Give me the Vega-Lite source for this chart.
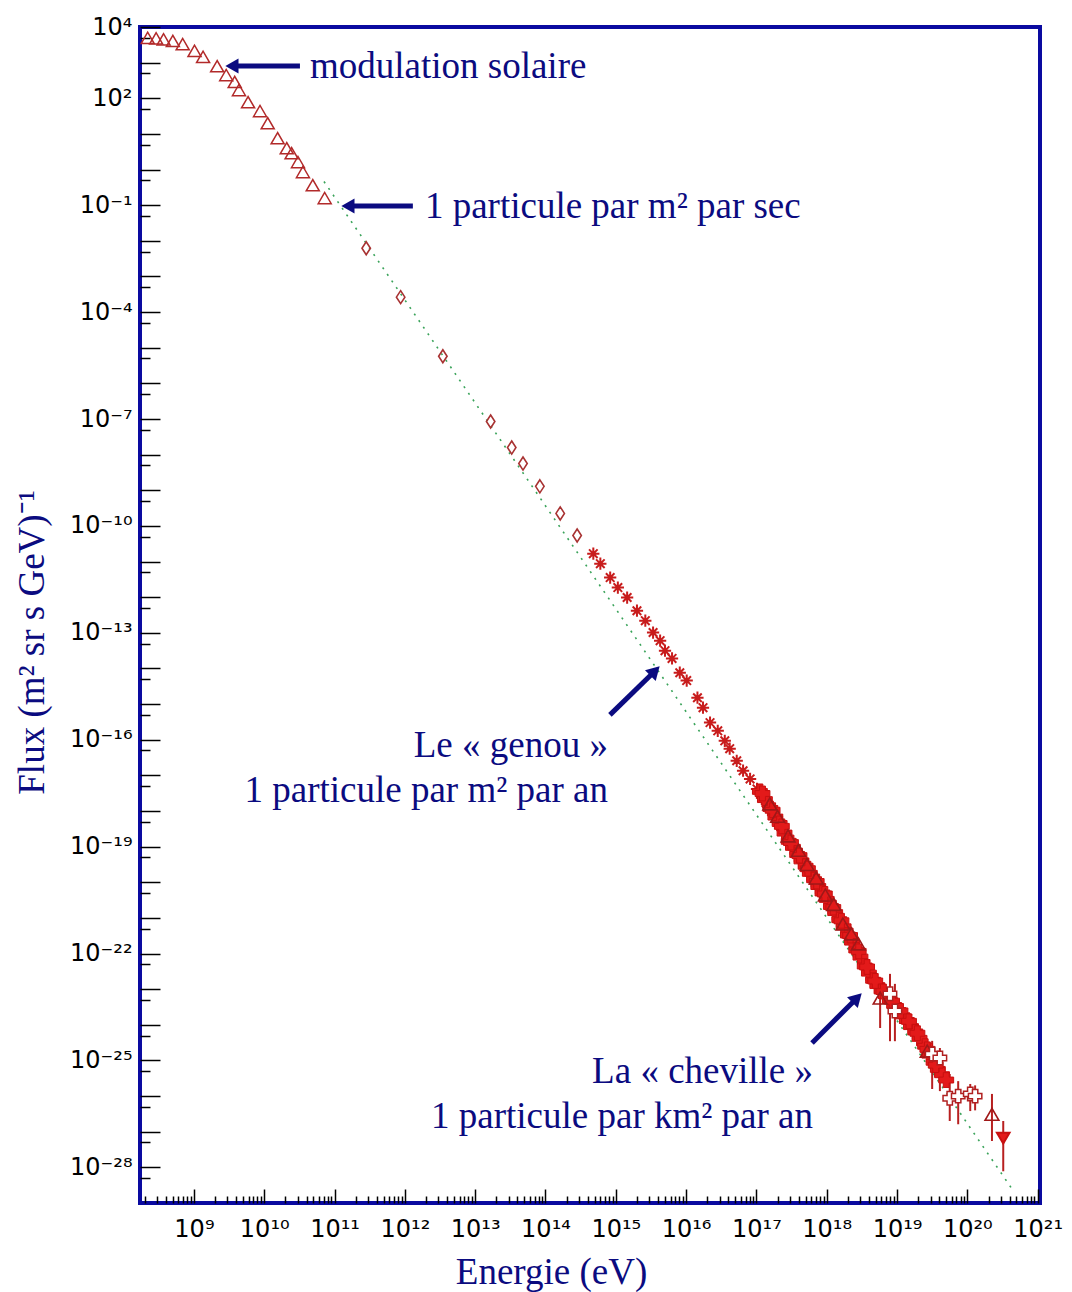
{
  "$schema": "https://vega.github.io/schema/vega-lite/v6.json",
  "width": 900,
  "height": 1176,
  "autosize": {"type": "none"},
  "padding": {"left": 140, "top": 27, "right": 32, "bottom": 89},
  "background": "white",
  "config": {
    "view": {"stroke": "#0a0aa0", "strokeWidth": 4},
    "axis": {
      "domain": false,
      "grid": false,
      "tickColor": "#000000",
      "tickWidth": 1.5,
      "labelFont": "DejaVu Sans",
      "labelFontSize": 24,
      "labelColor": "#000000",
      "titleFont": "Liberation Serif",
      "titleFontSize": 37,
      "titleFontWeight": "normal",
      "titleColor": "#0b0b80"
    }
  },
  "datasets": {
    "fit": [{"E": 7.08e10, "F": 0.46}, {"E": 4.47e20, "F": 2.24e-29}],
    "tri": [
      {"E": 2.2e8, "F": 4950}, {"E": 2.9e8, "F": 4800}, {"E": 3.7e8, "F": 4500}, {"E": 5.01e8, "F": 4070},
      {"E": 6.92e8, "F": 3310}, {"E": 1.02e9, "F": 2140}, {"E": 1.35e9, "F": 1450}, {"E": 2.14e9, "F": 794},
      {"E": 2.88e9, "F": 447}, {"E": 3.80e9, "F": 288}, {"E": 4.37e9, "F": 170}, {"E": 5.89e9, "F": 77.6},
      {"E": 8.71e9, "F": 43.7}, {"E": 1.12e10, "F": 20.0}, {"E": 1.55e10, "F": 7.59}, {"E": 2.09e10, "F": 3.98},
      {"E": 2.45e10, "F": 2.88}, {"E": 3.02e10, "F": 1.62}, {"E": 3.55e10, "F": 0.851}, {"E": 4.90e10, "F": 0.363},
      {"E": 7.24e10, "F": 0.158}
    ],
    "dia": [
      {"E": 2.82e11, "F": 6.17e-3}, {"E": 8.71e11, "F": 2.63e-4}, {"E": 3.47e12, "F": 5.75e-6},
      {"E": 1.66e13, "F": 8.51e-8}, {"E": 3.31e13, "F": 1.58e-8}, {"E": 4.79e13, "F": 5.62e-9},
      {"E": 8.32e13, "F": 1.29e-9}, {"E": 1.62e14, "F": 2.24e-10}, {"E": 2.82e14, "F": 5.37e-11}
    ],
    "star": [
      {"E": 4.79e14, "F": 1.66e-11}, {"E": 6.03e14, "F": 8.71e-12}, {"E": 8.32e14, "F": 3.55e-12},
      {"E": 1.07e15, "F": 1.86e-12}, {"E": 1.45e15, "F": 9.77e-13}, {"E": 2.00e15, "F": 4.17e-13},
      {"E": 2.63e15, "F": 2.19e-13}, {"E": 3.39e15, "F": 1.02e-13}, {"E": 4.27e15, "F": 6.03e-14},
      {"E": 5.01e15, "F": 3.16e-14}, {"E": 6.31e15, "F": 1.91e-14}, {"E": 8.13e15, "F": 7.59e-15},
      {"E": 1.02e16, "F": 4.57e-15}, {"E": 1.45e16, "F": 1.51e-15}, {"E": 1.74e16, "F": 7.94e-16},
      {"E": 2.19e16, "F": 3.02e-16}, {"E": 2.82e16, "F": 1.78e-16}, {"E": 3.55e16, "F": 9.33e-17},
      {"E": 4.17e16, "F": 5.62e-17}, {"E": 5.25e16, "F": 2.57e-17}, {"E": 6.46e16, "F": 1.35e-17},
      {"E": 8.13e16, "F": 7.94e-18}, {"E": 1.02e17, "F": 4.17e-18}, {"E": 1.20e17, "F": 2.34e-18},
      {"E": 1.41e17, "F": 1.58e-18}
    ],
    "band": [
      {"E": 1.12e17, "F": 3.55e-18}, {"E": 1.32e17, "F": 2.09e-18}, {"E": 1.58e17, "F": 1.18e-18},
      {"E": 1.86e17, "F": 6.76e-19}, {"E": 2.14e17, "F": 4.47e-19}, {"E": 2.51e17, "F": 2.40e-19},
      {"E": 2.88e17, "F": 1.41e-19}, {"E": 3.31e17, "F": 9.55e-20}, {"E": 3.80e17, "F": 6.03e-20},
      {"E": 4.37e17, "F": 3.98e-20}, {"E": 5.01e17, "F": 2.82e-20}, {"E": 5.75e17, "F": 1.78e-20},
      {"E": 6.61e17, "F": 1.18e-20}, {"E": 7.59e17, "F": 7.59e-21}, {"E": 8.71e17, "F": 5.01e-21},
      {"E": 1.00e18, "F": 3.31e-21}, {"E": 1.15e18, "F": 2.09e-21}, {"E": 1.32e18, "F": 1.41e-21},
      {"E": 1.51e18, "F": 8.91e-22}, {"E": 1.74e18, "F": 5.62e-22}, {"E": 2.00e18, "F": 3.31e-22},
      {"E": 2.29e18, "F": 2.09e-22}, {"E": 2.63e18, "F": 1.26e-22}, {"E": 3.02e18, "F": 7.94e-23},
      {"E": 3.47e18, "F": 4.47e-23}, {"E": 3.98e18, "F": 2.82e-23}, {"E": 4.57e18, "F": 1.78e-23},
      {"E": 5.25e18, "F": 1.26e-23}, {"E": 6.03e18, "F": 8.91e-24}, {"E": 6.92e18, "F": 6.61e-24},
      {"E": 7.94e18, "F": 4.79e-24}, {"E": 9.12e18, "F": 3.47e-24}, {"E": 1.05e19, "F": 2.51e-24},
      {"E": 1.20e19, "F": 1.78e-24}, {"E": 1.38e19, "F": 1.32e-24}, {"E": 1.58e19, "F": 8.91e-25},
      {"E": 1.82e19, "F": 6.31e-25}, {"E": 2.09e19, "F": 4.17e-25}, {"E": 2.51e19, "F": 2.51e-25},
      {"E": 2.88e19, "F": 1.41e-25}, {"E": 3.31e19, "F": 8.91e-26}, {"E": 3.80e19, "F": 5.62e-26},
      {"E": 4.37e19, "F": 3.98e-26}, {"E": 5.01e19, "F": 2.82e-26},
      {"E": 1.22e17, "F": 3.10e-18}, {"E": 1.70e17, "F": 1.05e-18}, {"E": 2.30e17, "F": 3.70e-19},
      {"E": 3.10e17, "F": 1.30e-19}, {"E": 4.10e17, "F": 5.60e-20}, {"E": 5.40e17, "F": 2.40e-20},
      {"E": 7.20e17, "F": 1.05e-20}, {"E": 9.40e17, "F": 4.70e-21}, {"E": 1.24e18, "F": 1.95e-21},
      {"E": 1.62e18, "F": 8.30e-22}, {"E": 2.15e18, "F": 3.20e-22}, {"E": 2.85e18, "F": 1.15e-22},
      {"E": 3.75e18, "F": 4.20e-23}, {"E": 4.90e18, "F": 1.70e-23}, {"E": 6.40e18, "F": 8.60e-24},
      {"E": 8.50e18, "F": 4.60e-24}, {"E": 1.12e19, "F": 2.45e-24}, {"E": 1.48e19, "F": 1.25e-24},
      {"E": 1.95e19, "F": 5.80e-25}, {"E": 2.70e19, "F": 2.05e-25}, {"E": 3.55e19, "F": 7.40e-26}
    ],
    "otri": [
      {"E": 1.55e17, "F": 1.58e-18}, {"E": 2.00e17, "F": 7.08e-19}, {"E": 2.82e17, "F": 2.00e-19},
      {"E": 3.98e17, "F": 7.94e-20}, {"E": 5.25e17, "F": 3.16e-20}, {"E": 7.08e17, "F": 1.32e-20},
      {"E": 9.55e17, "F": 4.37e-21}, {"E": 1.26e18, "F": 2.40e-21}, {"E": 1.70e18, "F": 6.76e-22},
      {"E": 2.24e18, "F": 3.55e-22}, {"E": 2.82e18, "F": 1.86e-22}, {"E": 5.75e18, "F": 5.62e-24},
      {"E": 2.69e19, "F": 1.82e-25}, {"E": 2.24e20, "F": 3.09e-27}
    ],
    "ocross": [
      {"E": 7.94e18, "F": 7.41e-24}, {"E": 9.33e18, "F": 2.45e-24}, {"E": 3.16e19, "F": 1.51e-25},
      {"E": 4.07e19, "F": 1.17e-25}, {"E": 5.62e19, "F": 8.71e-27}, {"E": 7.41e19, "F": 1.00e-26},
      {"E": 1.10e20, "F": 1.15e-26}, {"E": 1.29e20, "F": 1.00e-26}
    ],
    "dtri": [{"E": 3.24e20, "F": 6.61e-28}],
    "errs": [
      {"E": 5.75e18, "lo": 8.13e-25, "hi": 1.70e-23}, {"E": 2.24e20, "lo": 5.50e-28, "hi": 1.15e-26},
      {"E": 7.94e18, "lo": 3.47e-25, "hi": 2.69e-23}, {"E": 9.33e18, "lo": 3.47e-25, "hi": 1.41e-23},
      {"E": 3.16e19, "lo": 1.58e-26, "hi": 3.55e-25}, {"E": 4.07e19, "lo": 1.38e-26, "hi": 2.24e-25},
      {"E": 5.62e19, "lo": 2.00e-27, "hi": 4.17e-26}, {"E": 7.41e19, "lo": 1.62e-27, "hi": 2.63e-26},
      {"E": 1.10e20, "lo": 3.80e-27, "hi": 2.19e-26}, {"E": 1.29e20, "lo": 3.98e-27, "hi": 2.00e-26},
      {"E": 3.24e20, "lo": 7.76e-29, "hi": 2.00e-27}
    ],
    "arrows": [
      {"E": 3.22e10, "F": 805, "E2": 3.47e9, "F2": 805, "dir": "left"},
      {"E": 1.30e12, "F": 0.0951, "E2": 1.55e11, "F2": 0.0951, "dir": "left"},
      {"E": 8.26e14, "F": 4.97e-16, "E2": 3.61e15, "F2": 8.51e-15, "dir": "upright"},
      {"E": 6.18e17, "F": 3.11e-25, "E2": 2.70e18, "F2": 5.69e-24, "dir": "upright"}
    ],
    "notesL": [
      {"txt": "modulation solaire", "E": 4.47e10, "F": 371},
      {"txt": "1 particule par m² par sec", "E": 1.93e12, "F": 0.0438}
    ],
    "notesR": [
      {"txt": "Le « genou »", "E": 7.74e14, "F": 3.29e-17},
      {"txt": "1 particule par m² par an", "E": 7.74e14, "F": 1.80e-18},
      {"txt": "La « cheville »", "E": 6.38e17, "F": 2.35e-26},
      {"txt": "1 particule par km² par an", "E": 6.38e17, "F": 1.28e-27}
    ]
  },
  "encoding": {
    "x": {"field": "E", "type": "quantitative", "scale": {"type": "log", "domain": [1.71e8, 1.08e21], "nice": false}, "axis": null},
    "y": {"field": "F", "type": "quantitative", "scale": {"type": "log", "domain": [1e-29, 1e4], "nice": false}, "axis": null}
  },
  "layer": [
    {
      "data": {"name": "fit"},
      "mark": {"type": "line", "stroke": "#3aa35a", "strokeWidth": 1.6, "strokeDash": [2, 6]},
      "encoding": {
        "x": {
          "field": "E", "type": "quantitative",
          "scale": {"type": "log", "domain": [1.71e8, 1.08e21], "nice": false},
          "axis": {
            "orient": "bottom",
            "values": [1e9, 1e10, 1e11, 1e12, 1e13, 1e14, 1e15, 1e16, 1e17, 1e18, 1e19, 1e20, 1e21],
            "tickSize": -14,
            "labelPadding": 28,
            "labelFlush": false,
            "labelOverlap": false,
            "labelExpr": "'10' + (round(log(datum.value)/LN10) >= 10 ? substring('⁰¹²³⁴⁵⁶⁷⁸⁹', floor(round(log(datum.value)/LN10)/10), floor(round(log(datum.value)/LN10)/10)+1) : '') + substring('⁰¹²³⁴⁵⁶⁷⁸⁹', round(log(datum.value)/LN10)%10, round(log(datum.value)/LN10)%10+1)",
            "title": "Energie (eV)",
            "titleX": 411,
            "titleY": 80,
            "titleAlign": "center",
            "titleBaseline": "alphabetic"
          }
        },
        "y": {
          "field": "F", "type": "quantitative",
          "scale": {"type": "log", "domain": [1e-29, 1e4], "nice": false},
          "axis": {
            "orient": "left",
            "values": [1e4, 1e3, 1e2, 1e1, 1, 1e-1, 1e-2, 1e-3, 1e-4, 1e-5, 1e-6, 1e-7, 1e-8, 1e-9, 1e-10, 1e-11, 1e-12, 1e-13, 1e-14, 1e-15, 1e-16, 1e-17, 1e-18, 1e-19, 1e-20, 1e-21, 1e-22, 1e-23, 1e-24, 1e-25, 1e-26, 1e-27, 1e-28],
            "tickSize": -20,
            "labelPadding": 28,
            "labelFlush": false,
            "labelOverlap": false,
            "labelExpr": "indexof([4,2,-1,-4,-7,-10,-13,-16,-19,-22,-25,-28], round(log(datum.value)/LN10)) >= 0 ? '10' + (datum.value < 1 ? '⁻' : '') + (abs(round(log(datum.value)/LN10)) >= 10 ? substring('⁰¹²³⁴⁵⁶⁷⁸⁹', floor(abs(round(log(datum.value)/LN10))/10), floor(abs(round(log(datum.value)/LN10))/10)+1) : '') + substring('⁰¹²³⁴⁵⁶⁷⁸⁹', abs(round(log(datum.value)/LN10))%10, abs(round(log(datum.value)/LN10))%10+1) : ''",
            "title": "Flux (m² sr s GeV)⁻¹",
            "titleAngle": 270,
            "titleX": -97,
            "titleY": 615,
            "titleAlign": "center",
            "titleBaseline": "alphabetic"
          }
        }
      }
    },
    {
      "data": {"name": "tri"},
      "mark": {"type": "point", "shape": "triangle-up", "filled": false, "stroke": "#b22a2a", "strokeWidth": 1.5, "size": 170, "opacity": 1},
      "encoding": {
        "x": {
          "field": "E", "type": "quantitative",
          "scale": {"type": "log", "domain": [1.71e8, 1.08e21], "nice": false},
          "axis": {
            "orient": "bottom",
            "values": [2e8,3e8,4e8,5e8,6e8,7e8,8e8,9e8,2e9,3e9,4e9,5e9,6e9,7e9,8e9,9e9,2e10,3e10,4e10,5e10,6e10,7e10,8e10,9e10,2e11,3e11,4e11,5e11,6e11,7e11,8e11,9e11,2e12,3e12,4e12,5e12,6e12,7e12,8e12,9e12,2e13,3e13,4e13,5e13,6e13,7e13,8e13,9e13,2e14,3e14,4e14,5e14,6e14,7e14,8e14,9e14,2e15,3e15,4e15,5e15,6e15,7e15,8e15,9e15,2e16,3e16,4e16,5e16,6e16,7e16,8e16,9e16,2e17,3e17,4e17,5e17,6e17,7e17,8e17,9e17,2e18,3e18,4e18,5e18,6e18,7e18,8e18,9e18,2e19,3e19,4e19,5e19,6e19,7e19,8e19,9e19,2e20,3e20,4e20,5e20,6e20,7e20,8e20,9e20],
            "tickSize": -7,
            "labels": false,
            "title": null
          }
        },
        "y": {
          "field": "F", "type": "quantitative",
          "scale": {"type": "log", "domain": [1e-29, 1e4], "nice": false},
          "axis": {
            "orient": "left",
            "values": [5e3,5e2,50,5,0.5,5e-2,5e-3,5e-4,5e-5,5e-6,5e-7,5e-8,5e-9,5e-10,5e-11,5e-12,5e-13,5e-14,5e-15,5e-16,5e-17,5e-18,5e-19,5e-20,5e-21,5e-22,5e-23,5e-24,5e-25,5e-26,5e-27,5e-28,5e-29],
            "tickSize": -10,
            "labels": false,
            "title": null
          }
        }
      }
    },
    {
      "data": {"name": "dia"},
      "mark": {"type": "point", "shape": "M0,-1L0.65,0L0,1L-0.65,0Z", "filled": false, "stroke": "#a83232", "strokeWidth": 1.6, "size": 170, "opacity": 1}
    },
    {
      "data": {"name": "star"},
      "mark": {"type": "point", "shape": "M-1,0L1,0M0,-1L0,1M-0.7,-0.7L0.7,0.7M-0.7,0.7L0.7,-0.7", "filled": false, "stroke": "#c81c1c", "strokeWidth": 2, "size": 150, "opacity": 1}
    },
    {
      "data": {"name": "errs"},
      "mark": {"type": "rule", "stroke": "#b82020", "strokeWidth": 2},
      "encoding": {
        "y": {"field": "lo", "type": "quantitative", "scale": {"type": "log", "domain": [1e-29, 1e4], "nice": false}, "axis": null},
        "y2": {"field": "hi"}
      }
    },
    {
      "data": {"name": "band"},
      "mark": {"type": "point", "shape": "cross", "filled": true, "fill": "#e31a1a", "stroke": "#c81010", "strokeWidth": 1, "size": 220, "opacity": 1}
    },
    {
      "data": {"name": "otri"},
      "mark": {"type": "point", "shape": "triangle-up", "filled": false, "stroke": "#a01818", "strokeWidth": 1.6, "size": 190, "opacity": 1}
    },
    {
      "data": {"name": "ocross"},
      "mark": {"type": "point", "shape": "cross", "filled": true, "fill": "white", "stroke": "#b02020", "strokeWidth": 1.5, "size": 180, "opacity": 1}
    },
    {
      "data": {"name": "dtri"},
      "mark": {"type": "point", "shape": "triangle-down", "filled": true, "fill": "#e31a1a", "stroke": "#c81010", "size": 160, "opacity": 1}
    },
    {
      "data": {"name": "arrows"},
      "mark": {"type": "rule", "stroke": "#0b0b80", "strokeWidth": 5},
      "encoding": {
        "x2": {"field": "E2"},
        "y2": {"field": "F2"}
      }
    },
    {
      "data": {"name": "arrows"},
      "transform": [{"filter": "datum.dir == 'left'"}],
      "mark": {"type": "point", "shape": "triangle-left", "filled": true, "color": "#0b0b80", "size": 230, "opacity": 1},
      "encoding": {
        "x": {"field": "E2", "type": "quantitative", "scale": {"type": "log", "domain": [1.71e8, 1.08e21], "nice": false}, "axis": null},
        "y": {"field": "F2", "type": "quantitative", "scale": {"type": "log", "domain": [1e-29, 1e4], "nice": false}, "axis": null}
      }
    },
    {
      "data": {"name": "arrows"},
      "transform": [{"filter": "datum.dir == 'upright'"}],
      "mark": {"type": "point", "shape": "triangle-up", "angle": 45, "filled": true, "color": "#0b0b80", "size": 230, "opacity": 1},
      "encoding": {
        "x": {"field": "E2", "type": "quantitative", "scale": {"type": "log", "domain": [1.71e8, 1.08e21], "nice": false}, "axis": null},
        "y": {"field": "F2", "type": "quantitative", "scale": {"type": "log", "domain": [1e-29, 1e4], "nice": false}, "axis": null}
      }
    },
    {
      "data": {"name": "notesL"},
      "mark": {"type": "text", "font": "Liberation Serif", "fontSize": 37, "color": "#0b0b80", "align": "left", "baseline": "alphabetic"},
      "encoding": {"text": {"field": "txt"}}
    },
    {
      "data": {"name": "notesR"},
      "mark": {"type": "text", "font": "Liberation Serif", "fontSize": 37, "color": "#0b0b80", "align": "right", "baseline": "alphabetic"},
      "encoding": {"text": {"field": "txt"}}
    }
  ],
  "resolve": {"axis": {"x": "independent", "y": "independent"}}
}
